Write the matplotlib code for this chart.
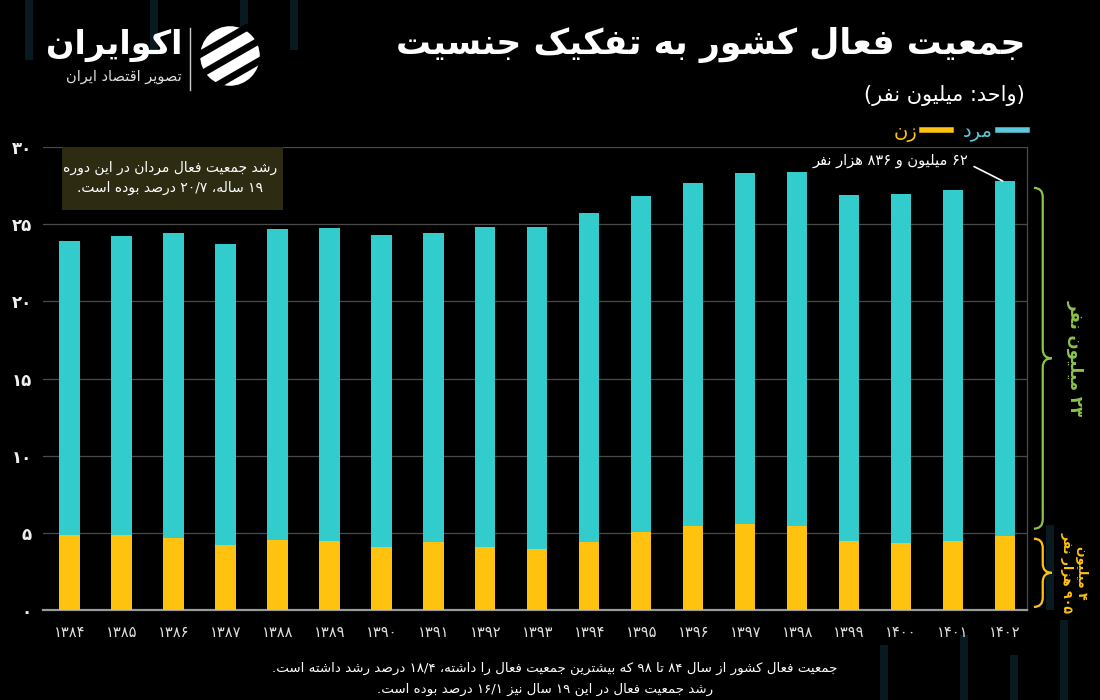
import re
import numpy as np
import matplotlib
matplotlib.use("Agg")
import matplotlib.pyplot as plt
from matplotlib.path import Path
from matplotlib.patches import PathPatch, Rectangle, Circle
from matplotlib.lines import Line2D
from matplotlib.transforms import blended_transform_factory

plt.rcParams['font.family'] = ['DejaVu Sans']

# --- data (million people) ---
years = [1384, 1385, 1386, 1387, 1388, 1389, 1390, 1391, 1392, 1393,
         1394, 1395, 1396, 1397, 1398, 1399, 1400, 1401, 1402]
women = [4.87, 4.85, 4.69, 4.18, 4.54, 4.48, 4.09, 4.43, 4.05, 3.98,
         4.43, 5.08, 5.43, 5.58, 5.45, 4.50, 4.37, 4.50, 4.82]
men = [19.07, 19.41, 19.72, 19.54, 20.15, 20.30, 20.23, 19.98, 20.75, 20.82,
       21.30, 21.77, 22.24, 22.75, 22.90, 22.37, 22.61, 22.71, 22.98]
y_ticks = [0, 5, 10, 15, 20, 25, 30]

title = "جمعیت فعال کشور به تفکیک جنسیت"
subtitle = "(واحد: میلیون نفر)"
label_men = "مرد"
label_women = "زن"
box_lines = ["رشد جمعیت فعال مردان در این دوره", "۱۹ ساله، ۲۰/۷ درصد بوده است."]
last_note = "۶۲ میلیون و ۸۳۶ هزار نفر"
men_brace = "۲۳ میلیون نفر"
women_brace = ["۴ میلیون", "۹۰۵ هزار نفر"]
footer = ["جمعیت فعال کشور از سال ۸۴ تا ۹۸ که بیشترین جمعیت فعال را داشته، ۱۸/۴ درصد رشد داشته است.",
          "رشد جمعیت فعال در این ۱۹ سال نیز ۱۶/۱ درصد بوده است."]
logo_name = "اکوایران"
logo_sub = "تصویر اقتصاد ایران"

# --- minimal Persian shaping + right-to-left ordering ---
FORMS = {
    'ا': (0xFE8D, 0xFE8E), 'آ': (0xFE81, 0xFE82), 'د': (0xFEA9, 0xFEAA),
    'ذ': (0xFEAB, 0xFEAC), 'ر': (0xFEAD, 0xFEAE), 'ز': (0xFEAF, 0xFEB0),
    'ژ': (0xFB8A, 0xFB8B), 'و': (0xFEED, 0xFEEE),
    'ب': (0xFE8F, 0xFE90, 0xFE91, 0xFE92), 'پ': (0xFB56, 0xFB57, 0xFB58, 0xFB59),
    'ت': (0xFE95, 0xFE96, 0xFE97, 0xFE98), 'ث': (0xFE99, 0xFE9A, 0xFE9B, 0xFE9C),
    'ج': (0xFE9D, 0xFE9E, 0xFE9F, 0xFEA0), 'چ': (0xFB7A, 0xFB7B, 0xFB7C, 0xFB7D),
    'ح': (0xFEA1, 0xFEA2, 0xFEA3, 0xFEA4), 'خ': (0xFEA5, 0xFEA6, 0xFEA7, 0xFEA8),
    'س': (0xFEB1, 0xFEB2, 0xFEB3, 0xFEB4), 'ش': (0xFEB5, 0xFEB6, 0xFEB7, 0xFEB8),
    'ص': (0xFEB9, 0xFEBA, 0xFEBB, 0xFEBC), 'ض': (0xFEBD, 0xFEBE, 0xFEBF, 0xFEC0),
    'ط': (0xFEC1, 0xFEC2, 0xFEC3, 0xFEC4), 'ظ': (0xFEC5, 0xFEC6, 0xFEC7, 0xFEC8),
    'ع': (0xFEC9, 0xFECA, 0xFECB, 0xFECC), 'غ': (0xFECD, 0xFECE, 0xFECF, 0xFED0),
    'ف': (0xFED1, 0xFED2, 0xFED3, 0xFED4), 'ق': (0xFED5, 0xFED6, 0xFED7, 0xFED8),
    'ک': (0xFB8E, 0xFB8F, 0xFB90, 0xFB91), 'گ': (0xFB92, 0xFB93, 0xFB94, 0xFB95),
    'ل': (0xFEDD, 0xFEDE, 0xFEDF, 0xFEE0), 'م': (0xFEE1, 0xFEE2, 0xFEE3, 0xFEE4),
    'ن': (0xFEE5, 0xFEE6, 0xFEE7, 0xFEE8), 'ه': (0xFEE9, 0xFEEA, 0xFEEB, 0xFEEC),
    'ی': (0xFBFC, 0xFBFD, 0xFBFE, 0xFBFF), 'ئ': (0xFE89, 0xFE8A, 0xFE8B, 0xFE8C),
}
LAMALEF = {'ا': (0xFEFB, 0xFEFC), 'آ': (0xFEF5, 0xFEF6)}


def shape(s):
    out, i, n = [], 0, len(s)
    dual = lambda c: c in FORMS and len(FORMS[c]) == 4
    while i < n:
        c = s[i]
        if c not in FORMS:
            out.append(c)
            i += 1
            continue
        p = i > 0 and dual(s[i - 1])
        if c == 'ل' and i + 1 < n and s[i + 1] in LAMALEF:
            out.append(chr(LAMALEF[s[i + 1]][1 if p else 0]))
            i += 2
            continue
        q = dual(c) and i + 1 < n and s[i + 1] in FORMS
        f = FORMS[c]
        out.append(chr(f[3] if p and q else f[1] if p else f[2] if q else f[0]))
        i += 1
    return ''.join(out)


def fa(s):
    toks = re.findall(r'[0-9۰-۹]+(?:[/.][0-9۰-۹]+)*|.', shape(s))
    swap = {'(': ')', ')': '('}
    return ''.join(swap.get(t, t) for t in reversed(toks))


def fa_num(v):
    return str(v).translate(str.maketrans('0123456789', '۰۱۲۳۴۵۶۷۸۹'))


# --- colors ---
BG = '#000000'
CYAN = '#33CCCC'
YELLOW = '#FFC20E'
GREEN = '#8BC34A'
LEG_CYAN = '#5BC8DC'
STRIPE = '#081a20'

fig = plt.figure(figsize=(11, 7), dpi=100, facecolor=BG)
W, H = 1100, 700


def fx(px):
    return px / W


def fy(py):
    return 1 - py / H


# faint background stripes (decoration)
for sx, sy0, sy1 in [(25, 0, 60), (150, 0, 55), (240, 0, 35), (290, 0, 50),
                     (1046, 525, 610), (880, 645, 700), (960, 635, 700), (1010, 655, 700),
                     (1060, 620, 700)]:
    fig.add_artist(Rectangle((fx(sx), fy(sy1)), fx(8), fy(sy0) - fy(sy1),
                             transform=fig.transFigure, facecolor=STRIPE,
                             edgecolor='none', zorder=0))

ax = fig.add_axes([fx(43), fy(610), fx(1027) - fx(43), fy(147) - fy(610)])
ax.set_facecolor('none')

x = np.arange(len(years))
ax.bar(x, women, width=0.39, color=YELLOW, zorder=3)
ax.bar(x, men, width=0.39, bottom=women, color=CYAN, zorder=3)

ax.set_xlim(-0.51, len(years) - 1 + 0.42)
ax.set_ylim(0, 30)
ax.set_yticks(y_ticks)
ax.set_yticklabels([fa_num(v) for v in y_ticks], color='#f0f0f0', fontsize=12, fontweight='bold')
ax.set_xticks(x)
ax.set_xticklabels([fa_num(v) for v in years], color='#e0e0e0', fontsize=10.5)
ax.tick_params(axis='both', length=0)
ax.tick_params(axis='y', pad=8)
ax.tick_params(axis='x', pad=11)
ax.grid(axis='y', color='#4a4a4a', linewidth=0.9, zorder=0)
for side in ['left', 'top']:
    ax.spines[side].set_visible(False)
ax.spines['bottom'].set_color('#9a9a9a')
ax.spines['bottom'].set_linewidth(1.6)
ax.spines['right'].set_color('#4a4a4a')
ax.spines['right'].set_linewidth(0.9)

# legend (handle to the right of the label, RTL style)
handles = [Line2D([], [], color=YELLOW, lw=4), Line2D([], [], color=LEG_CYAN, lw=4)]
leg = ax.legend(handles, [fa(label_women), fa(label_men)], ncol=2, markerfirst=False,
                frameon=False, loc='center right', bbox_to_anchor=(1.0, 1 + 15 / 463),
                fontsize=14, handlelength=1.5, handletextpad=0.25, columnspacing=0.6,
                borderpad=0, borderaxespad=0, labelcolor=[YELLOW, LEG_CYAN])

# titles
fig.text(fx(1025), fy(45), fa(title), color='white', fontsize=25, fontweight='bold',
         ha='right', va='center')
fig.text(fx(1025), fy(95), fa(subtitle), color='white', fontsize=15, ha='right', va='center')

# note box
fig.add_artist(Rectangle((fx(62), fy(210)), fx(283) - fx(62), fy(147) - fy(210),
                         transform=fig.transFigure, facecolor='#2d2c12', edgecolor='none',
                         zorder=1))
fig.text(fx(170), fy(168), fa(box_lines[0]), color='white', fontsize=10, ha='center',
         va='center', zorder=2)
fig.text(fx(170), fy(188), fa(box_lines[1]), color='white', fontsize=10, ha='center',
         va='center', zorder=2)

# annotation on last bar
total_last = women[-1] + men[-1]
ax.annotate(fa(last_note), xy=(x[-1] - 0.05, total_last), xytext=(17.3, 29.1),
            color='white', fontsize=10.5, ha='right', va='center',
            arrowprops=dict(arrowstyle='-', color='white', lw=1.2, relpos=(1.0, 0.3),
                            shrinkA=2, shrinkB=0), annotation_clip=False)

# braces on the right
trans = blended_transform_factory(ax.transAxes, ax.transData)


def brace(y0, y1, color, x0=1.007, w=0.018, r=0.6):
    mid = (y0 + y1) / 2
    xm = x0 + w / 2
    verts = [(x0, y1), (xm, y1), (xm, y1 - r), (xm, mid + r), (xm, mid), (x0 + w, mid),
             (xm, mid), (xm, mid - r), (xm, y0 + r), (xm, y0), (x0, y0)]
    codes = [Path.MOVETO, Path.CURVE3, Path.CURVE3, Path.LINETO, Path.CURVE3, Path.CURVE3,
             Path.CURVE3, Path.CURVE3, Path.LINETO, Path.CURVE3, Path.CURVE3]
    ax.add_patch(PathPatch(Path(verts, codes), transform=trans, facecolor='none',
                           edgecolor=color, lw=1.6, clip_on=False))
    return mid


m1 = brace(women[-1] + 0.45, total_last - 0.45, GREEN)
m2 = brace(0.2, women[-1] - 0.2, YELLOW)
ax.text(1.049, m1, fa(men_brace), transform=trans, rotation=270, color=GREEN, fontsize=12,
        fontweight='bold', ha='center', va='center')
ax.text(1.048, m2, fa(women_brace[0]) + '\n' + fa(women_brace[1]), transform=trans,
        rotation=270, color=YELLOW, fontsize=9, fontweight='bold', ha='center', va='center',
        multialignment='center', linespacing=1.15)

# footer
fig.text(fx(555), fy(668), fa(footer[0]), color='white', fontsize=9.6, ha='center', va='center')
fig.text(fx(545), fy(689), fa(footer[1]), color='white', fontsize=9.6, ha='center', va='center')

# logo
fig.text(fx(182), fy(45), fa(logo_name), color='white', fontsize=24, fontweight='bold',
         ha='right', va='center')
fig.text(fx(182), fy(76), fa(logo_sub), color='#dddddd', fontsize=10.5, ha='right', va='center')
fig.add_artist(Line2D([fx(190), fx(190)], [fy(28), fy(90)], color='#cccccc', lw=1))
lax = fig.add_axes([fx(198), fy(88), fx(64), fy(0) - fy(64)])
lax.set_aspect('equal')
lax.axis('off')
lax.set_xlim(-1.1, 1.1)
lax.set_ylim(-1.1, 1.1)
lax.add_patch(Circle((0, 0), 1.0, color='white'))
for c in (-0.75, -0.05, 0.65):
    lax.plot([-1.3, 1.3], [c - 0.75, c + 0.75], color=BG, lw=5, solid_capstyle='butt')

fig.savefig('out.png', dpi=100, facecolor=BG)
